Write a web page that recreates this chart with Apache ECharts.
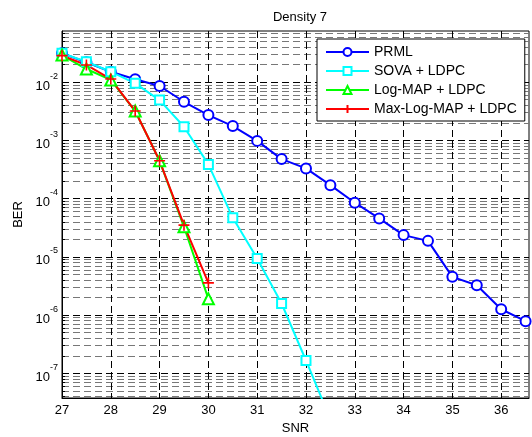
<!DOCTYPE html>
<html>
<head>
<meta charset="utf-8">
<script src="https://cdn.jsdelivr.net/npm/echarts@6/dist/echarts.min.js"></script>
<style>
  html, body { margin: 0; padding: 0; background: #fff; }
  #chart { width: 532px; height: 437px; }
</style>
</head>
<body>
<div id="chart"></div>
<script>
// SNR points for each curve
var snrPrml = [27, 27.5, 28, 28.5, 29, 29.5, 30, 30.5, 31, 31.5, 32, 32.5, 33, 33.5, 34, 34.5, 35, 35.5, 36, 36.5];
var snrSova = [27, 27.5, 28, 28.5, 29, 29.5, 30, 30.5, 31, 31.5, 32, 32.5];
var snrMap = [27, 27.5, 28, 28.5, 29, 29.5, 30];

// BER values
var berPrml = [0.0313, 0.0219, 0.0151, 0.0112, 0.00857, 0.0046, 0.00272, 0.00176, 0.00098, 4.77e-4,
               3.3e-4, 1.7e-4, 8.5e-5, 4.57e-5, 2.36e-5, 1.88e-5, 4.53e-6, 3.26e-6, 1.26e-6, 7.85e-7];
var berSova = [0.0313, 0.0224, 0.0151, 0.00953, 0.00492, 0.00171, 3.87e-4, 4.67e-5, 9.4e-6, 1.58e-6, 1.66e-7, 1.63e-8];
var berLogMap = [0.0292, 0.0168, 0.0109, 0.00319, 4.46e-4, 3.28e-5, 1.9e-6];
var berMaxLogMap = [0.0285, 0.0197, 0.0113, 0.00319, 4.46e-4, 3.5e-5, 3.57e-6];

var names = ['PRML', 'SOVA + LDPC', 'Log-MAP + LDPC', 'Max-Log-MAP + LDPC'];
var xTicks = [27, 28, 29, 30, 31, 32, 33, 34, 35, 36];
var decades = [-2, -3, -4, -5, -6, -7];

var yMin = -7.424, yMax = -1.122;
var font = 'Liberation Sans, Arial, Helvetica, sans-serif';

// minor log grid positions (2..9 x 10^n)
var minorLines = [];
for (var n = -8; n <= -1; n++) {
    for (var k = 2; k <= 9; k++) {
        var p = n + Math.log10(k);
        if (p > yMin && p < yMax) minorLines.push(p);
    }
}

function toPts(xs, ys) {
    return xs.map(function (x, i) { return [x, Math.log10(ys[i])]; });
}

var chart = echarts.init(document.getElementById('chart'));

var option = {
    animation: false,
    textStyle: { fontFamily: font },
    title: {
        text: 'Density 7',
        left: 295, top: 6, textAlign: 'center',
        textStyle: { fontSize: 13, fontWeight: 'normal', color: '#000', fontFamily: font }
    },
    grid: {
        left: 62, right: 3, top: 31, bottom: 39,
        outerBoundsMode: 'none',
        show: true, borderColor: '#000', borderWidth: 1, backgroundColor: '#fff'
    },
    legend: {
        orient: 'vertical',
        left: 317, top: 39,
        padding: [5, 8, 4, 8],
        itemWidth: 43, itemHeight: 10, itemGap: 3,
        backgroundColor: '#fff', borderColor: '#000', borderWidth: 1,
        textStyle: { fontSize: 14, lineHeight: 16, color: '#000', fontFamily: font },
        data: names
    },
    xAxis: {
        type: 'value',
        min: 27, max: 36.57,
        name: 'SNR', nameLocation: 'middle', nameGap: 23,
        nameTextStyle: { fontSize: 13, color: '#000', fontFamily: font },
        axisLine: { lineStyle: { color: '#000' } },
        axisTick: { inside: true, length: 5, customValues: xTicks, lineStyle: { color: '#000' } },
        axisLabel: { customValues: xTicks, fontSize: 13, color: '#000', margin: 6 },
        splitLine: { show: true, lineStyle: { color: '#000', type: [7, 4], width: 1 } }
    },
    yAxis: [{
        type: 'value',
        min: yMin, max: yMax,
        name: 'BER', nameLocation: 'middle', nameGap: 36,
        nameTextStyle: { fontSize: 13, color: '#000', fontFamily: font },
        axisLine: { show: true, lineStyle: { color: '#000' } },
        axisTick: { show: true, inside: true, length: 5, customValues: decades, lineStyle: { color: '#000' } },
        axisLabel: {
            customValues: decades, margin: 4, color: '#000',
            formatter: function (v) { return '{b|10}{s|' + Math.round(v) + '}'; },
            rich: {
                b: { fontSize: 13, lineHeight: 14, padding: [8, 0, 0, 0], color: '#000', fontFamily: font },
                s: { fontSize: 9, lineHeight: 10, padding: [0, 0, 12, 0], color: '#000', fontFamily: font }
            }
        },
        splitLine: { show: true, lineStyle: { color: '#000', type: [7, 4], width: 1 } }
    }, {
        type: 'value',
        position: 'left',
        min: yMin, max: yMax,
        axisLine: { show: false },
        axisTick: { show: true, inside: true, length: 3, customValues: minorLines, lineStyle: { color: '#000' } },
        axisLabel: { show: false, customValues: minorLines },
        splitLine: { show: true, lineStyle: { color: '#777', type: [7, 4], width: 1 } }
    }],
    series: [
        {
            name: names[0], type: 'line', data: toPts(snrPrml, berPrml),
            symbol: 'emptyCircle', symbolSize: 10, color: '#0000ff',
            lineStyle: { width: 2 }, itemStyle: { borderWidth: 1.6 }
        },
        {
            name: names[1], type: 'line', data: toPts(snrSova, berSova),
            symbol: 'emptyRect', symbolSize: 9, color: '#00ffff',
            lineStyle: { width: 2 }, itemStyle: { borderWidth: 1.6 }
        },
        {
            name: names[2], type: 'line', data: toPts(snrMap, berLogMap),
            symbol: 'emptyTriangle', symbolSize: 11, color: '#00ff00',
            lineStyle: { width: 2 }, itemStyle: { borderWidth: 1.6 }
        },
        {
            name: names[3], type: 'line', data: toPts(snrMap, berMaxLogMap),
            symbol: 'path://M0,5L10,5M5,0L5,10', symbolSize: 11, color: '#ff0000',
            lineStyle: { width: 2 }, itemStyle: { borderColor: '#ff0000', borderWidth: 1.6 }
        }
    ]
};

chart.setOption(option);
</script>
</body>
</html>
